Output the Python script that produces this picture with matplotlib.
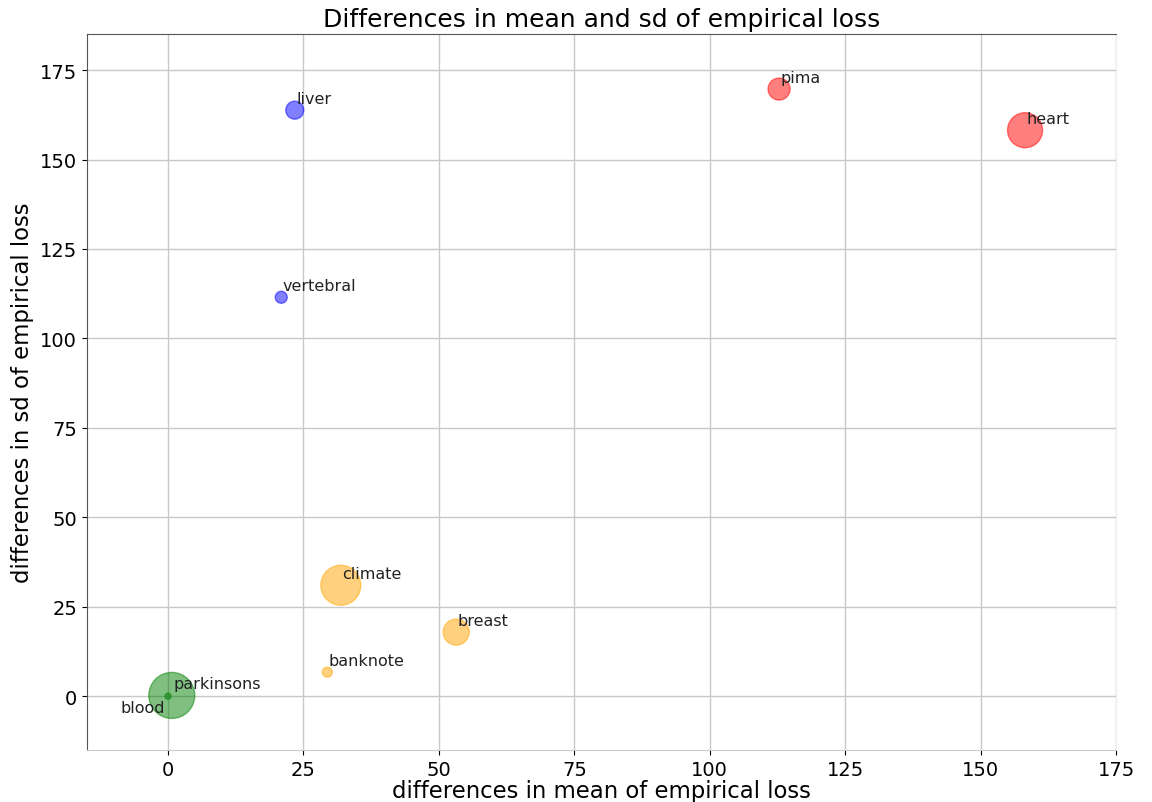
import numpy as np
from matplotlib import pyplot as plt

names = ['liver', 'vertebral', 'pima', 'heart', 'climate', 'breast', 'banknote', 'parkinsons', 'blood']
mean_diff = [23.4, 20.9, 112.8, 158.2, 31.9, 53.2, 29.4, 0.7, 0.0]
sd_diff = [163.8, 111.5, 169.7, 158.2, 31.0, 17.9, 6.7, 0.2, 0.0]
sizes = [168, 75, 251, 635, 829, 350, 52, 1097, 19]
colors = ['blue', 'blue', 'red', 'red', 'orange', 'orange', 'orange', 'green', 'green']

fig = plt.figure(figsize=(11.52, 8.03), dpi=100)
ax = fig.add_axes([0.0753, 0.065, 0.8935, 0.891])
ax.scatter(mean_diff, sd_diff, s=sizes, c=colors, alpha=0.5, zorder=3)

for i, nm in enumerate(names):
    if nm == 'blood':
        ax.annotate(nm, (mean_diff[i], sd_diff[i]), xytext=(-2, -3), textcoords='offset points',
                    ha='right', va='top', fontsize=11.5, color='#222222', zorder=4)
    else:
        ax.annotate(nm, (mean_diff[i], sd_diff[i]), xytext=(1, 3), textcoords='offset points',
                    ha='left', va='bottom', fontsize=11.5, color='#222222', zorder=4)

ax.set_xlim(-15, 175)
ax.set_ylim(-15, 185)
ax.set_xticks(np.arange(0, 176, 25))
ax.set_yticks(np.arange(0, 176, 25))
ax.tick_params(labelsize=14)
ax.grid(True, color='#c8c8c8', linewidth=1)
ax.set_axisbelow(True)
for s in ['left', 'top']:
    ax.spines[s].set_color('#555555')
ax.spines['bottom'].set_color('#cccccc')
ax.spines['right'].set_color('#eeeeee')
ax.set_xlabel('differences in mean of empirical loss', fontsize=16.4, labelpad=0)
ax.set_ylabel('differences in sd of empirical loss', fontsize=16.4)
ax.set_title('Differences in mean and sd of empirical loss', fontsize=18)

fig.savefig('out.png', dpi=100)
